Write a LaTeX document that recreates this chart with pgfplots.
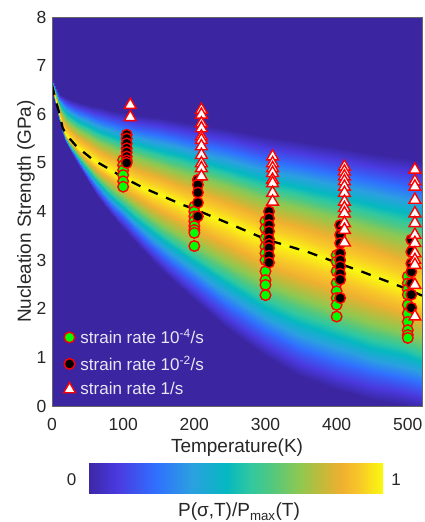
\documentclass[border=0pt]{standalone}
\usepackage{fontspec}
\setmainfont{Liberation Sans}
\usepackage{pgfplots}
\pgfplotsset{compat=1.18}
\definecolor{mredd}{RGB}{255,0,0}
\definecolor{mgreen}{RGB}{0,255,0}
\definecolor{bgpurple}{RGB}{60,37,160}
\definecolor{legtxt}{RGB}{232,232,245}
\pgfplotstableread{
T s
100 5.06
100 4.95
100 4.85
100 4.75
100 4.62
100 4.51
200 4.10
200 4.00
200 3.90
200 3.80
200 3.70
200 3.62
200 3.56
200 3.29
300 3.80
300 3.65
300 3.45
300 3.28
300 3.14
300 3.00
300 2.77
300 2.59
300 2.49
300 2.28
400 3.10
400 2.97
400 2.77
400 2.53
400 2.36
400 2.22
400 2.08
400 1.84
500 2.66
500 2.52
500 2.40
500 2.29
500 2.08
500 1.90
500 1.73
500 1.56
500 1.46
500 1.40
}\greentab
\pgfplotstableread{
T s
105 5.58
105 5.50
105 5.40
105 5.30
105 5.22
105 5.13
105 5.05
105 5.00
205 4.65
205 4.55
205 4.39
205 4.18
205 3.90
305 4.00
305 3.86
305 3.72
305 3.59
305 3.43
305 3.33
305 3.25
305 3.09
305 2.95
405 3.72
405 3.52
405 3.35
405 3.14
405 3.00
405 2.87
405 2.72
405 2.60
405 2.22
505 3.42
505 3.17
505 2.93
505 2.76
505 2.52
505 2.29
505 2.02
}\blacktab
\pgfplotstableread{
T s
110 6.19
110 5.94
210 6.09
210 5.99
210 5.81
210 5.71
210 5.54
210 5.47
210 5.34
210 5.16
210 4.99
210 4.89
210 4.72
310 5.13
310 4.99
310 4.89
310 4.79
310 4.65
310 4.58
310 4.38
310 4.20
411 4.92
411 4.82
411 4.72
411 4.62
411 4.51
411 4.38
411 4.20
411 4.07
411 3.96
411 3.76
411 3.62
411 3.36
510 4.86
510 4.62
510 4.51
510 4.24
510 3.96
510 3.76
510 3.52
510 3.35
510 3.14
510 3.00
510 2.90
510 2.49
510 1.84
}\triantab
\pgfplotstableread{
T s
0 6.60
5 6.30
10 6.03
15 5.72
20 5.58
35 5.33
58 5.06
82 4.86
100 4.70
128 4.49
150 4.35
183 4.14
200 4.05
254 3.72
300 3.43
359 3.17
400 2.95
436 2.76
500 2.40
520 2.27
}\peaktab
\begin{document}
\begin{tikzpicture}[x=1bp,y=1bp]
\path[use as bounding box] (0,0) rectangle (424,522);
\begin{axis}[
  at={(52bp,116bp)},anchor=south west,
  scale only axis,width=370bp,height=389bp,
  xmin=0,xmax=520,ymin=0,ymax=8,
  xtick={0,100,200,300,400,500},ytick={0,1,...,8},
  major tick length=0pt,
  axis background/.style={fill=bgpurple},
  axis on top,
  axis line style={draw=black!60,line width=0.8bp},
  /pgf/number format/assume math mode=true,
  tick label style={font=\fontsize{17.5bp}{20bp}\selectfont,text=black!85},
  xticklabel style={yshift=-9bp},
  yticklabel style={xshift=-2bp},
  xlabel={Temperature(K)},
  ylabel={Nucleation Strength (GPa)},
  label style={font=\fontsize{19bp}{22bp}\selectfont,text=black!85},
  xlabel style={yshift=-1bp},
  ylabel style={yshift=-5bp},
  point meta min=0,point meta max=1,
  colormap={parlike}{
    rgb255(0pt)=(59,39,165)
    rgb255(10pt)=(74,58,224)
    rgb255(23pt)=(48,112,255)
    rgb255(35pt)=(43,160,224)
    rgb255(47pt)=(5,184,192)
    rgb255(55pt)=(48,200,160)
    rgb255(62pt)=(80,200,128)
    rgb255(72pt)=(144,200,80)
    rgb255(80pt)=(200,184,56)
    rgb255(86pt)=(240,176,48)
    rgb255(92pt)=(248,200,40)
    rgb255(100pt)=(250,250,16)
  },
  colorbar horizontal,
  colorbar/width=30bp,
  colorbar style={
    at={(0.0973,-0.2262)},anchor=south west,
    width=295bp,height=30bp,
    xtick=\empty,ytick=\empty,
    axis line style={draw=none},
    xlabel={},ylabel={},
  },
  legend style={at={(0.0315,0.02)},anchor=south west,draw=none,fill=none,
    font=\fontsize{17bp}{19bp}\selectfont,text=legtxt,row sep=6.5bp,
    inner sep=0pt,outer sep=0pt},
  legend cell align=left,
  clip=true,
]
\addplot[surf,shader=interp,mesh/rows=21,mesh/cols=11,point meta=explicit,forget plot] coordinates {
(0,6.50)[0] (0,6.52)[.2] (0,6.54)[.45] (0,6.56)[.7] (0,6.58)[.87] (0,6.60)[1] (0,6.63)[.87] (0,6.66)[.7] (0,6.69)[.45] (0,6.72)[.2] (0,6.75)[0]
(5,6.20)[0] (5,6.22)[.2] (5,6.24)[.45] (5,6.26)[.7] (5,6.28)[.87] (5,6.30)[1] (5,6.35)[.87] (5,6.40)[.7] (5,6.45)[.45] (5,6.50)[.2] (5,6.55)[0]
(10,5.90)[0] (10,5.93)[.2] (10,5.95)[.45] (10,5.98)[.7] (10,6.00)[.87] (10,6.03)[1] (10,6.11)[.87] (10,6.19)[.7] (10,6.26)[.45] (10,6.34)[.2] (10,6.42)[0]
(15,5.60)[0] (15,5.62)[.2] (15,5.65)[.45] (15,5.67)[.7] (15,5.70)[.87] (15,5.72)[1] (15,5.85)[.87] (15,5.98)[.7] (15,6.12)[.45] (15,6.25)[.2] (15,6.38)[0]
(20,5.40)[0] (20,5.44)[.2] (20,5.47)[.45] (20,5.51)[.7] (20,5.54)[.87] (20,5.58)[1] (20,5.73)[.87] (20,5.88)[.7] (20,6.04)[.45] (20,6.19)[.2] (20,6.34)[0]
(35,5.00)[0] (35,5.07)[.2] (35,5.13)[.45] (35,5.20)[.7] (35,5.26)[.87] (35,5.33)[1] (35,5.52)[.87] (35,5.70)[.7] (35,5.89)[.45] (35,6.07)[.2] (35,6.26)[0]
(50,4.62)[0] (50,4.73)[.2] (50,4.83)[.45] (50,4.94)[.7] (50,5.04)[.87] (50,5.15)[1] (50,5.36)[.87] (50,5.57)[.7] (50,5.78)[.45] (50,5.99)[.2] (50,6.20)[0]
(65,4.30)[0] (65,4.44)[.2] (65,4.58)[.45] (65,4.71)[.7] (65,4.85)[.87] (65,4.99)[1] (65,5.22)[.87] (65,5.45)[.7] (65,5.68)[.45] (65,5.91)[.2] (65,6.14)[0]
(85,3.92)[0] (85,4.10)[.2] (85,4.28)[.45] (85,4.46)[.7] (85,4.64)[.87] (85,4.82)[1] (85,5.07)[.87] (85,5.32)[.7] (85,5.57)[.45] (85,5.82)[.2] (85,6.07)[0]
(100,3.67)[0] (100,3.88)[.2] (100,4.08)[.45] (100,4.29)[.7] (100,4.49)[.87] (100,4.70)[1] (100,4.97)[.87] (100,5.23)[.7] (100,5.50)[.45] (100,5.76)[.2] (100,6.03)[0]
(125,3.25)[0] (125,3.50)[.2] (125,3.75)[.45] (125,4.01)[.7] (125,4.26)[.87] (125,4.51)[1] (125,4.80)[.87] (125,5.09)[.7] (125,5.39)[.45] (125,5.68)[.2] (125,5.97)[0]
(150,2.85)[0] (150,3.15)[.2] (150,3.45)[.45] (150,3.75)[.7] (150,4.05)[.87] (150,4.35)[1] (150,4.66)[.87] (150,4.98)[.7] (150,5.29)[.45] (150,5.61)[.2] (150,5.92)[0]
(175,2.50)[0] (175,2.84)[.2] (175,3.18)[.45] (175,3.52)[.7] (175,3.86)[.87] (175,4.20)[1] (175,4.53)[.87] (175,4.86)[.7] (175,5.20)[.45] (175,5.53)[.2] (175,5.86)[0]
(200,2.20)[0] (200,2.57)[.2] (200,2.94)[.45] (200,3.31)[.7] (200,3.68)[.87] (200,4.05)[1] (200,4.40)[.87] (200,4.75)[.7] (200,5.10)[.45] (200,5.45)[.2] (200,5.80)[0]
(250,1.56)[0] (250,2.00)[.2] (250,2.44)[.45] (250,2.87)[.7] (250,3.31)[.87] (250,3.75)[1] (250,4.13)[.87] (250,4.52)[.7] (250,4.90)[.45] (250,5.29)[.2] (250,5.67)[0]
(300,1.05)[0] (300,1.53)[.2] (300,2.00)[.45] (300,2.48)[.7] (300,2.95)[.87] (300,3.43)[1] (300,3.85)[.87] (300,4.27)[.7] (300,4.69)[.45] (300,5.11)[.2] (300,5.53)[0]
(350,0.62)[0] (350,1.14)[.2] (350,1.65)[.45] (350,2.17)[.7] (350,2.68)[.87] (350,3.20)[1] (350,3.64)[.87] (350,4.09)[.7] (350,4.53)[.45] (350,4.98)[.2] (350,5.42)[0]
(400,0.35)[0] (400,0.87)[.2] (400,1.39)[.45] (400,1.91)[.7] (400,2.43)[.87] (400,2.95)[1] (400,3.42)[.87] (400,3.89)[.7] (400,4.36)[.45] (400,4.83)[.2] (400,5.30)[0]
(450,0.15)[0] (450,0.66)[.2] (450,1.16)[.45] (450,1.67)[.7] (450,2.17)[.87] (450,2.68)[1] (450,3.18)[.87] (450,3.68)[.7] (450,4.18)[.45] (450,4.68)[.2] (450,5.18)[0]
(500,0.03)[0] (500,0.50)[.2] (500,0.98)[.45] (500,1.45)[.7] (500,1.93)[.87] (500,2.40)[1] (500,2.93)[.87] (500,3.47)[.7] (500,4.00)[.45] (500,4.54)[.2] (500,5.07)[0]
(520,-0.05)[0] (520,0.41)[.2] (520,0.87)[.45] (520,1.34)[.7] (520,1.81)[.87] (520,2.27)[1] (520,2.82)[.87] (520,3.37)[.7] (520,3.92)[.45] (520,4.47)[.2] (520,5.02)[0]
};
\addplot[black,line width=2.3bp,dash pattern=on 10bp off 9bp,forget plot] table[x=T,y=s] {\peaktab};
\addplot[only marks,mark=*,mark size=5.3bp,mark options={draw=mredd,fill=mgreen,line width=1.4bp}] table[x=T,y=s] {\greentab};
\addlegendentry{\hspace{3bp}strain rate 10\textsuperscript{-4}/s}
\addplot[only marks,mark=*,mark size=5.3bp,mark options={draw=mredd,fill=black,line width=1.4bp}] table[x=T,y=s] {\blacktab};
\addlegendentry{\hspace{3bp}strain rate 10\textsuperscript{-2}/s}
\addplot[only marks,mark=triangle*,mark size=6.8bp,mark options={draw=mredd,fill=white,line width=1.4bp}] table[x=T,y=s] {\triantab};
\addlegendentry{\hspace{3bp}strain rate 1/s}
\end{axis}
\node[font=\fontsize{17bp}{20bp}\selectfont,text=black!85] at (71.5,42.5) {0};
\node[font=\fontsize{17bp}{20bp}\selectfont,text=black!85] at (396,42.5) {1};
\node[font=\fontsize{19bp}{22bp}\selectfont,text=black!85] at (239,10) {P(σ,T)/P\textsubscript{max}(T)};
\end{tikzpicture}
\end{document}
